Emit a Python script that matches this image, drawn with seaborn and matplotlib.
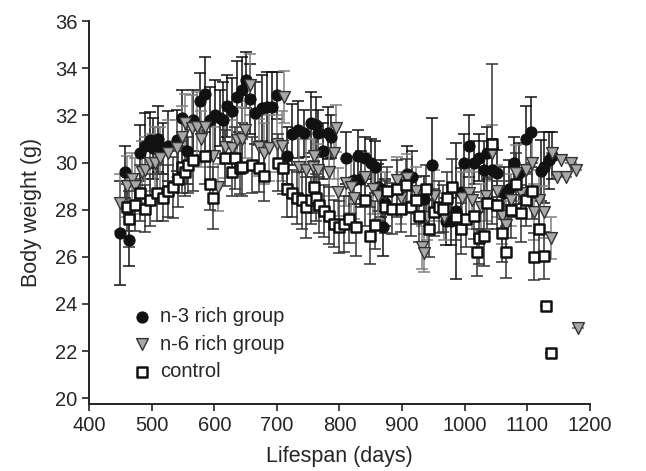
import numpy as np
import pandas as pd
import matplotlib
matplotlib.use("Agg")
import matplotlib.pyplot as plt
import seaborn as sns

# n-3 rich group (days, body weight, sd)
n3_days = [449, 457, 463, 481, 489, 497, 502, 510, 518, 526, 540, 548, 556, 566,
           577, 585, 593, 601, 609, 614, 620, 628, 636, 644, 650, 657, 665, 676,
           684, 692, 700, 716, 724, 733, 744, 755, 763, 765, 773, 781, 787, 811,
           824, 829, 835, 840, 851, 856, 861, 867, 869, 872, 908, 916, 935, 948,
           970, 978, 986, 994, 999, 1007, 1015, 1023, 1031, 1036, 1044, 1052,
           1063, 1071, 1079, 1087, 1098, 1106, 1122, 1127, 1135, 1140]
n3_weight = [27.0, 29.6, 26.7, 30.4, 30.7, 30.95, 30.6, 31.0, 30.6, 30.7, 30.95, 31.9,
             30.5, 31.8, 32.6, 32.9, 31.8, 32.0, 31.9, 31.8, 32.4, 32.2, 32.8, 33.1,
             33.5, 32.7, 32.1, 32.3, 32.35, 32.35, 32.85, 30.3, 31.2, 31.4, 31.25,
             31.7, 31.6, 31.25, 30.5, 31.25, 31.1, 30.2, 29.25, 30.3, 29.3, 30.2,
             30.0, 29.8, 28.95, 28.9, 27.25, 28.3, 29.5, 29.4, 28.45, 29.9, 27.5,
             27.5, 27.95, 28.75, 30.0, 30.7, 30.0, 30.2, 29.7, 30.4, 29.7, 29.55,
             28.7, 28.9, 30.0, 29.55, 31.0, 31.3, 29.65, 29.8, 30.1, 30.3]
n3_sd = [2.2, 1.1, 1.1, 1.2, 1.4, 1.2, 1.3, 1.4, 1.1, 1.5, 1.3, 1.2, 1.4, 1.3, 1.2,
         1.6, 1.4, 1.5, 1.2, 1.6, 1.3, 1.4, 1.5, 1.4, 1.2, 1.5, 1.3, 1.4, 1.5, 1.5,
         1.0, 1.2, 1.3, 1.2, 1.0, 1.3, 1.2, 1.0, 1.2, 1.1, 0.9, 1.1, 1.0, 1.1, 1.2,
         0.9, 1.0, 1.1, 1.0, 1.2, 1.2, 1.0, 1.2, 1.1, 1.0, 2.0, 1.0, 1.0, 2.9, 1.0,
         1.2, 1.3, 0.9, 1.0, 1.2, 1.1, 1.3, 1.0, 1.1, 1.2, 1.1, 1.3, 1.4, 1.5, 1.3,
         1.5, 1.2, 1.0]

# n-6 rich group
n6_days = [449, 461, 469, 473, 484, 489, 497, 505, 513, 526, 540, 548, 553, 564,
           572, 578, 585, 598, 606, 617, 628, 636, 644, 649, 657, 672, 680, 688,
           700, 708, 712, 736, 747, 757, 760, 765, 784, 792, 795, 798, 811, 819,
           824, 840, 853, 861, 872, 892, 899, 908, 923, 932, 935, 940, 951, 967,
           996, 1007, 1012, 1026, 1034, 1044, 1052, 1060, 1066, 1074, 1082, 1090,
           1098, 1107, 1111, 1119, 1127, 1138, 1140, 1148, 1154, 1162, 1170, 1178,
           1181]
n6_weight = [28.3, 29.0, 29.3, 29.0, 29.6, 29.7, 30.0, 30.0, 30.2, 30.4, 30.6, 31.1,
             31.7, 31.45, 31.5, 31.0, 31.5, 30.3, 28.95, 30.65, 30.6, 30.95, 31.0,
             31.4, 33.3, 30.65, 30.4, 30.6, 30.8, 30.7, 32.8, 29.8, 29.7, 29.8, 30.3,
             29.7, 29.6, 30.4, 31.45, 28.75, 29.15, 28.95, 28.5, 29.4, 28.9, 28.6,
             28.7, 29.25, 28.5, 29.35, 28.8, 26.4, 26.15, 27.7, 28.6, 27.7, 28.5,
             28.7, 28.4, 28.1, 28.6, 30.4, 28.8, 27.75, 27.35, 28.4, 29.55, 28.7,
             29.7, 30.0, 27.9, 28.4, 27.9, 26.8, 30.4, 29.4, 30.1, 29.4, 30.0, 29.7,
             23.0]
n6_sd = [1.2, 1.3, 1.1, 1.2, 1.3, 1.4, 1.2, 1.5, 1.3, 1.4, 1.2, 1.3, 1.2, 1.4, 1.5,
         1.2, 1.3, 1.2, 1.0, 1.3, 1.2, 1.4, 1.3, 1.2, 1.3, 1.2, 1.3, 1.4, 1.2, 1.5,
         1.1, 1.2, 1.3, 1.2, 1.3, 1.1, 1.0, 1.1, 1.0, 1.0, 1.0, 1.1, 0.9, 1.0, 1.1,
         1.0, 0.9, 1.0, 1.1, 1.0, 1.0, 0.9, 0.8, 1.0, 1.1, 1.0, 1.1, 1.0, 1.2, 1.0,
         1.1, 1.2, 1.1, 1.2, 1.0, 1.1, 1.2, 1.0, 1.1, 1.3, 1.2, 1.3, 1.1, 0.9, 0.0,
         0.0, 0.0, 0.0, 0.0, 0.0, 0.0]

# control group
ct_days = [461, 464, 473, 481, 489, 497, 508, 518, 526, 534, 542, 548, 553, 558,
           566, 585, 593, 598, 617, 628, 633, 641, 645, 661, 672, 680, 701, 709,
           716, 724, 732, 740, 747, 755, 760, 763, 768, 776, 784, 792, 800, 808,
           816, 827, 840, 848, 856, 872, 876, 884, 892, 899, 907, 915, 923, 927,
           939, 943, 951, 959, 965, 972, 980, 986, 994, 1002, 1015, 1020, 1023,
           1031, 1036, 1044, 1052, 1060, 1066, 1074, 1082, 1090, 1098, 1107, 1111,
           1119, 1127, 1130, 1138]
ct_weight = [28.1, 27.6, 28.2, 28.7, 28.05, 28.4, 28.7, 28.5, 28.8, 28.95, 29.3, 29.8,
             29.6, 29.9, 30.1, 30.3, 29.1, 28.5, 30.2, 29.6, 30.2, 29.75, 29.8, 29.9,
             29.75, 29.45, 30.0, 29.75, 28.9, 28.7, 28.5, 28.4, 28.1, 28.4, 28.95,
             28.5, 28.2, 27.95, 27.75, 27.4, 27.25, 27.4, 27.6, 27.25, 28.4, 26.9,
             27.35, 28.1, 28.8, 28.05, 28.9, 28.05, 29.05, 28.1, 28.4, 27.75, 28.9,
             27.2, 27.9, 28.1, 28.05, 28.5, 28.95, 27.7, 27.2, 27.6, 27.75, 26.2,
             26.8, 26.9, 28.3, 30.8, 28.2, 27.0, 26.2, 28.0, 29.1, 27.85, 28.4, 28.8,
             26.0, 27.2, 26.05, 23.9, 21.9]
ct_sd = [1.0, 1.2, 1.1, 1.2, 1.0, 1.1, 1.2, 1.0, 1.1, 1.3, 1.2, 1.1, 1.0, 1.2, 1.3,
         1.2, 1.1, 1.3, 1.2, 1.0, 1.3, 1.1, 1.2, 1.2, 1.0, 1.1, 1.2, 1.1, 1.2, 1.0,
         1.1, 1.2, 1.3, 1.0, 1.1, 1.0, 1.2, 1.1, 1.2, 1.0, 1.1, 1.2, 1.0, 1.2, 1.1,
         1.2, 1.0, 1.1, 1.0, 1.1, 1.2, 1.0, 1.1, 1.2, 1.0, 1.1, 1.0, 1.2, 1.0, 1.1,
         1.0, 1.1, 1.2, 1.0, 1.1, 1.2, 1.0, 1.0, 1.1, 1.3, 1.1, 3.4, 1.0, 1.2, 1.1,
         1.2, 1.3, 1.2, 1.1, 1.2, 1.0, 1.3, 1.0, 0.0, 0.0]

sns.set_style("ticks")
plt.rcParams['font.family'] = ['Liberation Sans', 'DejaVu Sans']

fig = plt.figure(figsize=(6.46, 4.71), dpi=100)
ax = fig.add_axes([0.138, 0.142, 0.775, 0.813])

# error bars first, markers on top
ax.errorbar(n3_days, n3_weight, yerr=n3_sd, fmt='none', ecolor='#111111',
            elinewidth=1.1, capsize=4, capthick=1.1, zorder=1)
ax.errorbar(n6_days, n6_weight, yerr=n6_sd, fmt='none', ecolor='#808080',
            elinewidth=1.1, capsize=4, capthick=1.1, zorder=1)
ax.errorbar(ct_days, ct_weight, yerr=ct_sd, fmt='none', ecolor='#333333',
            elinewidth=1.1, capsize=4, capthick=1.1, zorder=1)

sns.scatterplot(x=n3_days, y=n3_weight, marker='o', s=64, color='#111111',
                edgecolor='#111111', linewidth=0.8, label='n-3 rich group', ax=ax, zorder=3)
sns.scatterplot(x=n6_days, y=n6_weight, marker='v', s=72, color='#a8a8a8',
                edgecolor='#333333', linewidth=1.0, label='n-6 rich group', ax=ax, zorder=4)
sns.scatterplot(x=ct_days, y=ct_weight, marker='s', s=52, color='white',
                edgecolor='#111111', linewidth=1.8, label='control', ax=ax, zorder=5)

ax.set_xlim(400, 1200)
ax.set_ylim(19.75, 36)
ax.set_xticks(range(400, 1201, 100))
ax.set_yticks(range(20, 37, 2))
ax.set_xlabel('Lifespan (days)', fontsize=15.5, labelpad=8)
ax.set_ylabel('Body weight (g)', fontsize=15.5, labelpad=9)
ax.tick_params(labelsize=14.5, length=5, width=1.2, color='#222222')
for side in ['left', 'bottom']:
    ax.spines[side].set_linewidth(1.4)
    ax.spines[side].set_color('#222222')
sns.despine(ax=ax)

ax.legend(loc='upper left', bbox_to_anchor=(0.065, 0.274), frameon=False,
          fontsize=14.5, handletextpad=0.3, labelspacing=0.42, borderaxespad=0,
          handlelength=1.2)

fig.savefig('out.png', dpi=100)
